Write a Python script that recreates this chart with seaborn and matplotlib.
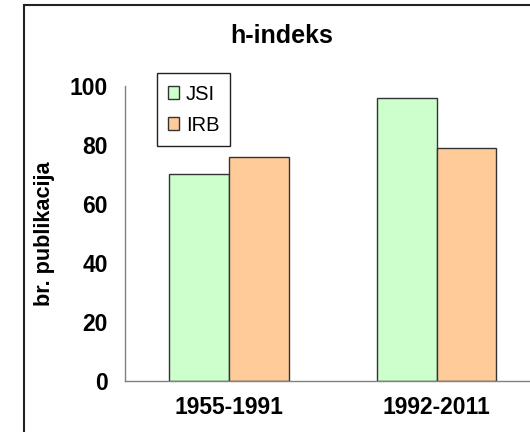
import matplotlib
matplotlib.use('Agg')
import matplotlib.pyplot as plt
import pandas as pd
import seaborn as sns
from matplotlib.patches import Rectangle

# data
periods = ['1955-1991', '1992-2011']
institutes = ['JSI', 'IRB']
jsi_values = [70, 96]
irb_values = [76, 79]
colors = {'JSI': '#CCFFCC', 'IRB': '#FFCC99'}

sns.set_style('white')
plt.rcParams['font.family'] = ['Liberation Sans', 'DejaVu Sans']
plt.rcParams['text.color'] = 'black'
plt.rcParams['axes.labelcolor'] = 'black'
plt.rcParams['xtick.labelcolor'] = 'black'
plt.rcParams['ytick.labelcolor'] = 'black'

df = pd.DataFrame({
    'period': periods * 2,
    'inst': ['JSI'] * len(periods) + ['IRB'] * len(periods),
    'value': jsi_values + irb_values,
})

W, H = 530, 432
fig = plt.figure(figsize=(W / 100, H / 100), dpi=100)
# axes box in pixels: left 125, right 540, bottom 380.7, top 86
ax = fig.add_axes([125 / W, (H - 380.7) / H, 415.4 / W, 294.7 / H])

sns.barplot(data=df, x='period', y='value', hue='inst', hue_order=institutes,
            palette=colors, saturation=1, width=0.575, edgecolor='#333333',
            linewidth=1, ax=ax)

ax.set_xlim(-0.5, 1.5)
ax.set_ylim(0, 100)
ax.set_yticks(range(0, 101, 20))

axis_col = '#808080'
for side in ['top', 'right']:
    ax.spines[side].set_visible(False)
for side in ['left', 'bottom']:
    ax.spines[side].set_color(axis_col)
    ax.spines[side].set_linewidth(1)

ax.tick_params(axis='y', direction='out', length=5.5, width=1, color=axis_col,
               pad=7, labelsize=16.5)
ax.tick_params(axis='x', which='major', length=0, pad=11, labelsize=16.5)
ax.set_xticks([-0.5, 0.5, 1.5], minor=True)
ax.tick_params(axis='x', which='minor', direction='out', length=5, width=1,
               color=axis_col)
for lbl in ax.get_xticklabels() + ax.get_yticklabels():
    lbl.set_fontweight('bold')

ax.set_xlabel('')
ax.set_ylabel('br. publikacija', fontsize=15.6, fontweight='bold')
ax.yaxis.set_label_coords(-0.168, 0.5)

fig.text(282 / W, 1 - 36 / H, 'h-indeks', ha='center', va='center',
         fontsize=18, fontweight='bold')

handles, labels = ax.get_legend_handles_labels()
ax.get_legend().remove()
leg = ax.legend(handles, labels, loc='upper left',
                bbox_to_anchor=(156.5 / W, 1 - 73.5 / H),
                bbox_transform=fig.transFigure, fontsize=14.5,
                handlelength=0.55, handleheight=0.55, handletextpad=0.35,
                labelspacing=0.6, borderpad=0.55, borderaxespad=0,
                fancybox=False, framealpha=1, edgecolor='#222222')
leg.get_frame().set_linewidth(1)
leg._legend_box.align = 'left'

# outer chart-area frame, cut off at the right and bottom like the reference
fig.patches.append(Rectangle((24 / W, -0.5), 2, 0.5 + 1 - 5 / H,
                             transform=fig.transFigure, fill=False,
                             edgecolor='#222222', linewidth=1.5))

fig.savefig('out.png', dpi=100)
